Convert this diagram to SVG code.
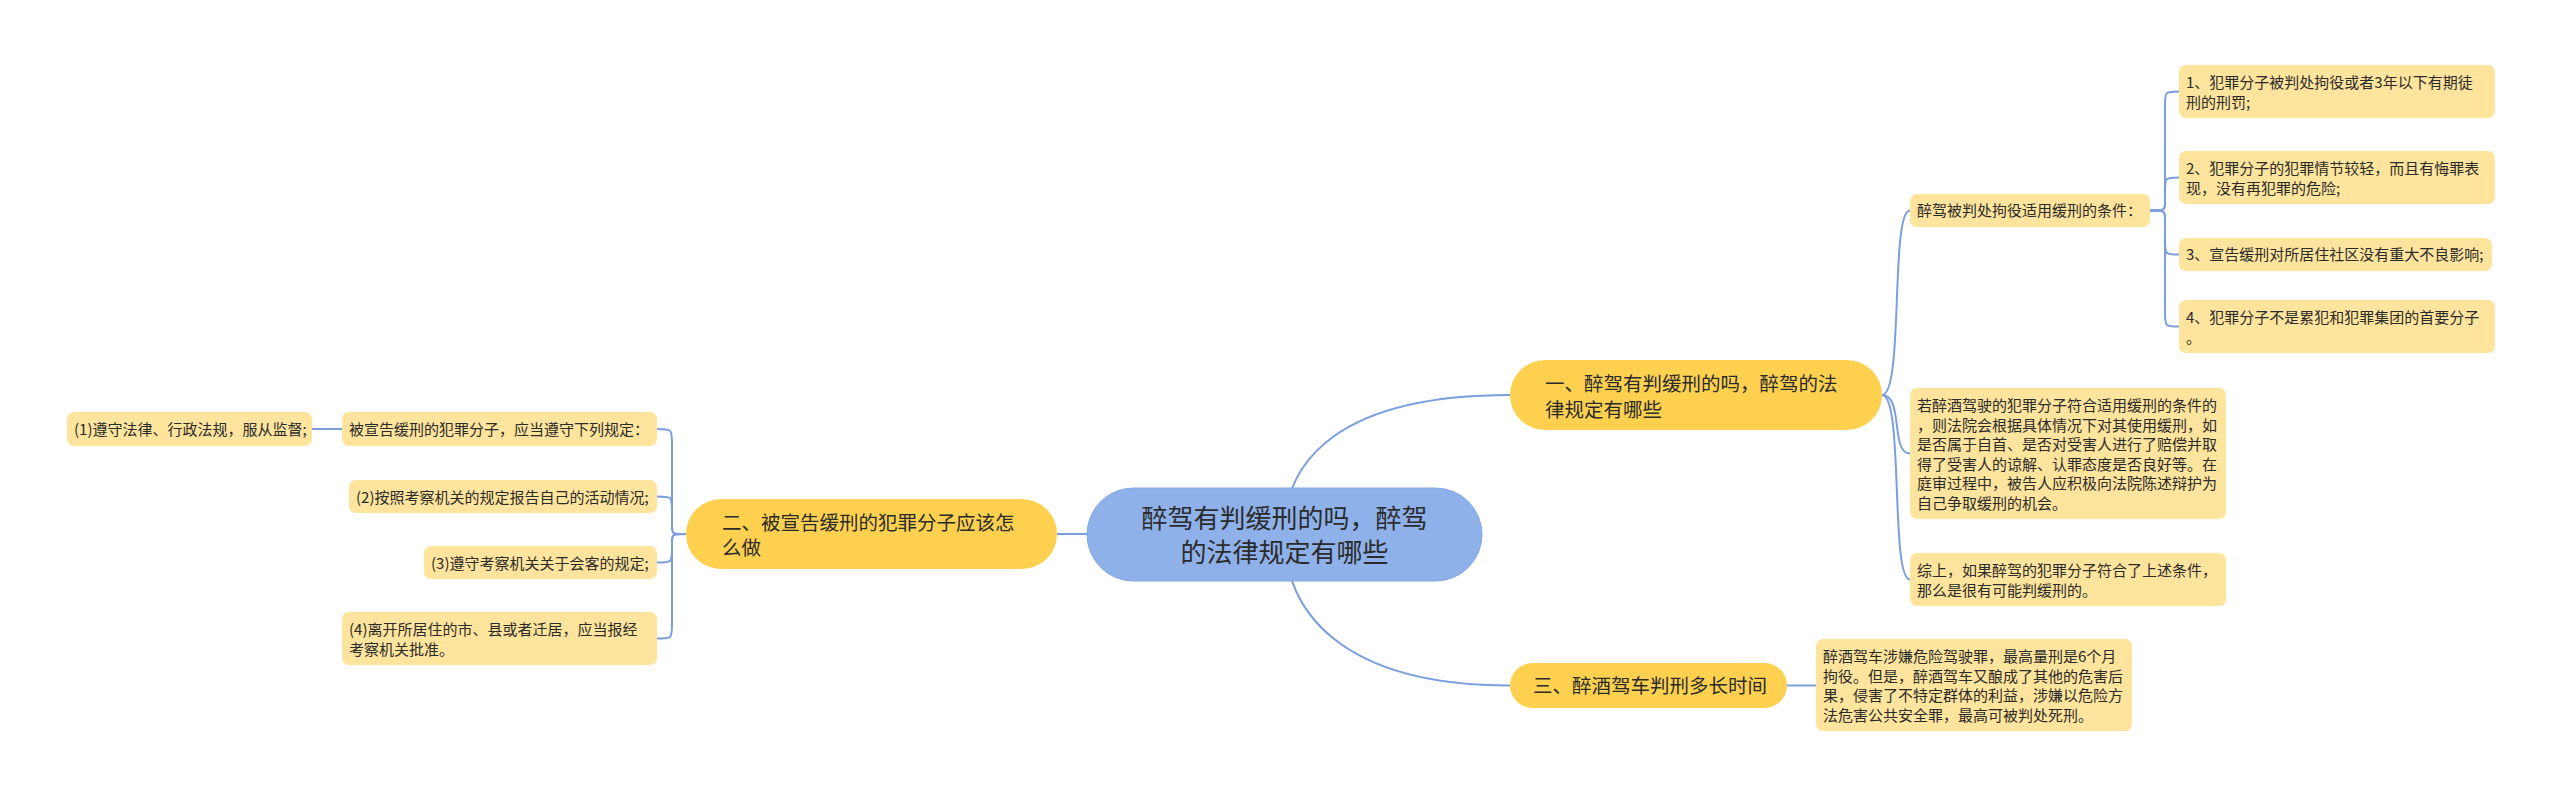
<svg xmlns="http://www.w3.org/2000/svg" width="2560" height="796" viewBox="0 0 2560 796">
<style>
text{font-family:"Noto Sans CJK SC","Microsoft YaHei",sans-serif;fill:#2b2b2b}
.leaf rect{fill:#fee49c}
.leaf text{font-size:15px}
.br rect{fill:#fdd14f}
.br text{font-size:19.5px}
.root rect{fill:#8fb1ea;stroke:#84a7e6;stroke-width:1}
.root text{font-size:26px}
.lines path{fill:none;stroke:#7b9fdd;stroke-width:2}
</style>
<rect width="2560" height="796" fill="#ffffff"/>
<g class="lines">
<path d="M1284,534 C1284,460 1340,395 1510,395"/>
<path d="M1284,534 C1284,610 1340,685.5 1510,685.5"/>
<path d="M1087,534 H1057"/>
<path d="M1882,395 C1904,395 1890,210.5 1910,210.5"/>
<path d="M1882,395 C1904,395 1890,453.5 1910,453.5"/>
<path d="M1882,395 C1904,395 1890,579.5 1910,579.5"/>
<path d="M2150,210.5 C2165,210.5 2165,210.5 2165,202 V106 C2165,91.5 2165,91.5 2179,91.5"/>
<path d="M2150,210.5 C2165,210.5 2165,210.5 2165,202 V192 C2165,177.5 2165,177.5 2179,177.5"/>
<path d="M2150,210.5 C2165,210.5 2165,210.5 2165,219 V240 C2165,254.5 2165,254.5 2179,254.5"/>
<path d="M2150,210.5 C2165,210.5 2165,210.5 2165,219 V312 C2165,326.5 2165,326.5 2179,326.5"/>
<path d="M1787,685.5 H1816"/>
<path d="M686,534 C672,534 672,534 672,526 V444 C672,429 672,429 657,429"/>
<path d="M686,534 C672,534 672,534 672,526 V511 C672,496.5 672,496.5 657,496.5"/>
<path d="M686,534 C672,534 672,534 672,542 V548 C672,562.5 672,562.5 657,562.5"/>
<path d="M686,534 C672,534 672,534 672,542 V624 C672,638.5 672,638.5 657,638.5"/>
<path d="M342,429 H312"/>
</g>
<g id="root" class="root">
<rect x="1087" y="488" width="395" height="93" rx="46.5"/>
<text x="1284.5" y="527.5" text-anchor="middle">醉驾有判缓刑的吗，醉驾</text>
<text x="1284.5" y="561.5" text-anchor="middle">的法律规定有哪些</text>
</g>
<g id="b1" class="br">
<rect x="1510" y="360" width="372" height="70" rx="35"/>
<text x="1545" y="391">一、醉驾有判缓刑的吗，醉驾的法</text>
<text x="1545" y="417">律规定有哪些</text>
</g>
<g id="b3" class="br">
<rect x="1510" y="663" width="277" height="45" rx="22.5"/>
<text x="1533" y="693">三、醉酒驾车判刑多长时间</text>
</g>
<g id="b2" class="br">
<rect x="686" y="499" width="371" height="70" rx="35"/>
<text x="722" y="529.5">二、被宣告缓刑的犯罪分子应该怎</text>
<text x="722" y="555">么做</text>
</g>
<g id="a" class="leaf">
<rect x="1910" y="194" width="240" height="33" rx="7"/>
<text x="1917" y="216">醉驾被判处拘役适用缓刑的条件：</text>
</g>
<g id="a1" class="leaf">
<rect x="2179" y="65" width="316" height="53" rx="7"/>
<text x="2186" y="88">1、犯罪分子被判处拘役或者3年以下有期徒</text>
<text x="2186" y="107.6">刑的刑罚;</text>
</g>
<g id="a2" class="leaf">
<rect x="2179" y="151" width="316" height="53" rx="7"/>
<text x="2186" y="174">2、犯罪分子的犯罪情节较轻，而且有悔罪表</text>
<text x="2186" y="193.6">现，没有再犯罪的危险;</text>
</g>
<g id="a3" class="leaf">
<rect x="2179" y="238" width="313" height="33" rx="7"/>
<text x="2186" y="260">3、宣告缓刑对所居住社区没有重大不良影响;</text>
</g>
<g id="a4" class="leaf">
<rect x="2179" y="300" width="316" height="53" rx="7"/>
<text x="2186" y="323">4、犯罪分子不是累犯和犯罪集团的首要分子</text>
<text x="2186" y="342.6">。</text>
</g>
<g id="b" class="leaf">
<rect x="1910" y="388" width="316" height="131" rx="7"/>
<text x="1917" y="411">若醉酒驾驶的犯罪分子符合适用缓刑的条件的</text>
<text x="1917" y="430.6">，则法院会根据具体情况下对其使用缓刑，如</text>
<text x="1917" y="450.2">是否属于自首、是否对受害人进行了赔偿并取</text>
<text x="1917" y="469.8">得了受害人的谅解、认罪态度是否良好等。在</text>
<text x="1917" y="489.4">庭审过程中，被告人应积极向法院陈述辩护为</text>
<text x="1917" y="509">自己争取缓刑的机会。</text>
</g>
<g id="d" class="leaf">
<rect x="1910" y="553" width="316" height="53" rx="7"/>
<text x="1917" y="576">综上，如果醉驾的犯罪分子符合了上述条件，</text>
<text x="1917" y="595.6">那么是很有可能判缓刑的。</text>
</g>
<g id="e" class="leaf">
<rect x="1816" y="639" width="316" height="92" rx="7"/>
<text x="1823" y="662">醉酒驾车涉嫌危险驾驶罪，最高量刑是6个月</text>
<text x="1823" y="681.6">拘役。但是，醉酒驾车又酿成了其他的危害后</text>
<text x="1823" y="701.2">果，侵害了不特定群体的利益，涉嫌以危险方</text>
<text x="1823" y="720.8">法危害公共安全罪，最高可被判处死刑。</text>
</g>
<g id="l0" class="leaf">
<rect x="342" y="412" width="315" height="34" rx="7"/>
<text x="349" y="435">被宣告缓刑的犯罪分子，应当遵守下列规定：</text>
</g>
<g id="l1" class="leaf">
<rect x="67" y="412" width="245" height="34" rx="7"/>
<text x="74" y="435">(1)遵守法律、行政法规，服从监督;</text>
</g>
<g id="l2" class="leaf">
<rect x="349" y="480" width="308" height="33" rx="7"/>
<text x="356" y="502.5">(2)按照考察机关的规定报告自己的活动情况;</text>
</g>
<g id="l3" class="leaf">
<rect x="424" y="546" width="233" height="33" rx="7"/>
<text x="431" y="568.5">(3)遵守考察机关关于会客的规定;</text>
</g>
<g id="l4" class="leaf">
<rect x="342" y="612" width="315" height="53" rx="7"/>
<text x="349" y="635">(4)离开所居住的市、县或者迁居，应当报经</text>
<text x="349" y="654.6">考察机关批准。</text>
</g>
</svg>
